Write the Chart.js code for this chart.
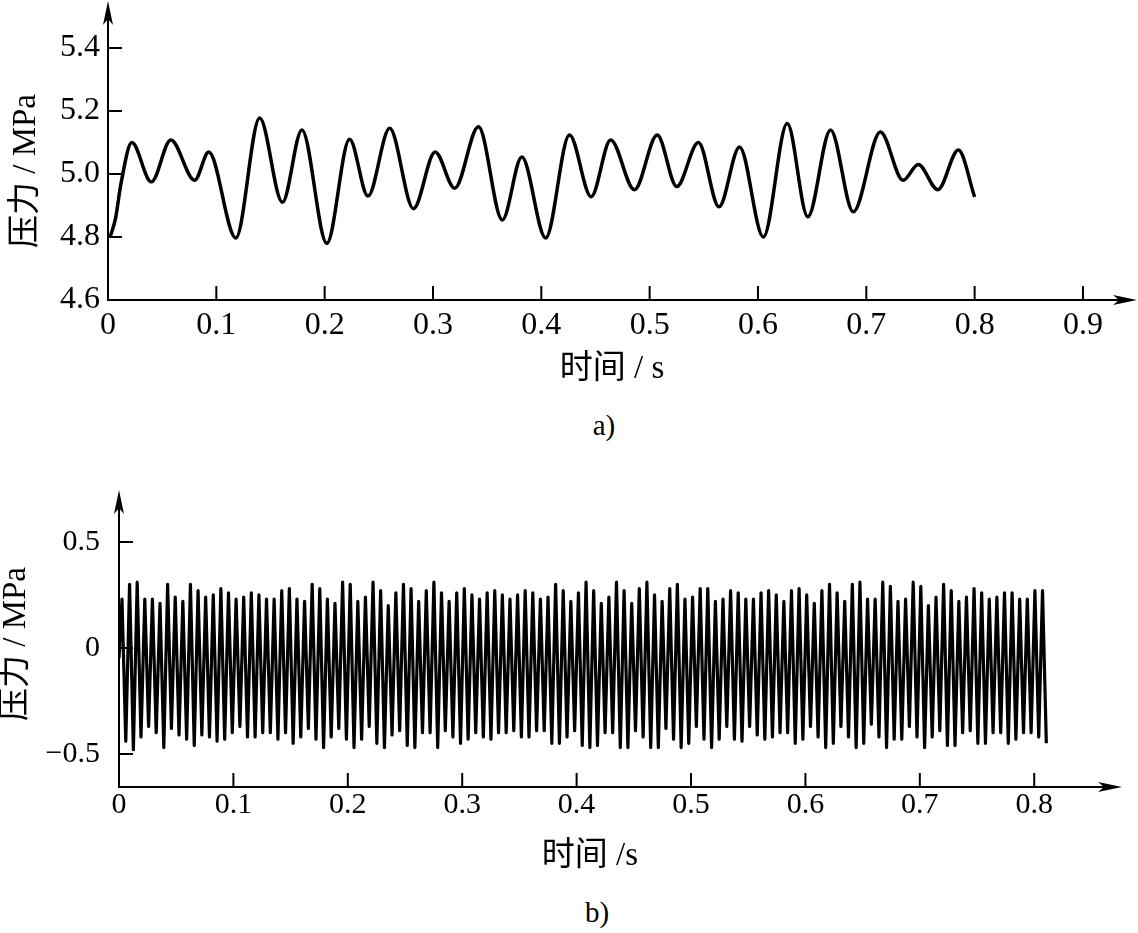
<!DOCTYPE html>
<html>
<head>
<meta charset="utf-8">
<script src="https://cdn.jsdelivr.net/npm/chart.js@4/dist/chart.umd.min.js"></script>
<style>
  body { margin: 0; background: #fff; }
  #wrap { position: relative; width: 1138px; height: 933px; background: #fff; }
  canvas { position: absolute; left: 0; }
  .cap { position: absolute; transform: translate(-50%, -50%); font: 29px 'Liberation Serif', serif; color: #000; }
</style>
</head>
<body>
<div id="wrap">
  <canvas id="chartA" width="1138" height="400" style="top:0"></canvas>
  <div class="cap" style="left:604px;top:425px">a)</div>
  <canvas id="chartB" width="1138" height="410" style="top:470px"></canvas>
  <div class="cap" style="left:597px;top:912px">b)</div>
</div>
<script>
// a) 压力随时间 (MPa), 读图得到的峰谷点
const timeA = [0.002, 0.007, 0.012, 0.022, 0.040, 0.058, 0.080, 0.093, 0.118, 0.140, 0.161, 0.179,
  0.202, 0.223, 0.240, 0.260, 0.282, 0.302, 0.320, 0.342, 0.364, 0.382, 0.404, 0.426,
  0.446, 0.464, 0.486, 0.507, 0.525, 0.545, 0.564, 0.583, 0.605, 0.627, 0.646, 0.667,
  0.688, 0.713, 0.734, 0.748, 0.766, 0.785, 0.800];
const pressA = [4.80, 4.86, 4.97, 5.10, 4.975, 5.108, 4.98, 5.07, 4.797, 5.178, 4.91, 5.14,
  4.78, 5.11, 4.93, 5.145, 4.89, 5.07, 4.955, 5.15, 4.854, 5.054, 4.797, 5.124,
  4.928, 5.108, 4.95, 5.124, 4.96, 5.10, 4.896, 5.086, 4.80, 5.16, 4.864, 5.14,
  4.88, 5.133, 4.98, 5.03, 4.95, 5.076, 4.927];
const xTicksA = [0, 0.1, 0.2, 0.3, 0.4, 0.5, 0.6, 0.7, 0.8, 0.9];
const xLabelsA = ['0', '0.1', '0.2', '0.3', '0.4', '0.5', '0.6', '0.7', '0.8', '0.9'];
const yTicksA = [4.6, 4.8, 5.0, 5.2, 5.4];
const yLabelsA = ['4.6', '4.8', '5.0', '5.2', '5.4'];

// b) 压力脉动 (MPa): 每个周期的波峰和波谷
const peaksB = [
  0.23, 0.30, 0.31, 0.23, 0.23, 0.21, 0.30, 0.24, 0.22, 0.30, 0.27, 0.24, 0.25, 0.28, 0.26, 0.23, 0.24, 0.26, 0.25, 0.23, 0.23,
  0.27, 0.28, 0.23, 0.22, 0.30, 0.28, 0.23, 0.21, 0.31, 0.30, 0.22, 0.24, 0.31, 0.27, 0.20, 0.26, 0.30, 0.28, 0.22, 0.27,
  0.31, 0.26, 0.22, 0.26, 0.28, 0.25, 0.23, 0.26, 0.27, 0.25, 0.23, 0.25, 0.27, 0.26, 0.23, 0.24, 0.30, 0.27, 0.22, 0.26,
  0.31, 0.27, 0.21, 0.24, 0.31, 0.27, 0.21, 0.28, 0.31, 0.25, 0.22, 0.28, 0.30, 0.23, 0.24, 0.28, 0.28, 0.22, 0.23, 0.27, 0.26,
  0.23, 0.23, 0.26, 0.27, 0.25, 0.22, 0.27, 0.28, 0.25, 0.21, 0.27, 0.30, 0.26, 0.22, 0.30, 0.31, 0.23, 0.23, 0.31, 0.29,
  0.22, 0.23, 0.31, 0.29, 0.20, 0.24, 0.30, 0.27, 0.22, 0.24, 0.28, 0.26, 0.23, 0.24, 0.26, 0.26, 0.23, 0.23, 0.27, 0.27];
const troughsB = [
  -0.44, -0.48, -0.42, -0.37, -0.40, -0.47, -0.38, -0.41, -0.43, -0.46, -0.41, -0.42, -0.44, -0.43, -0.40, -0.37, -0.42, -0.42, -0.40, -0.40, -0.43,
  -0.40, -0.45, -0.42, -0.38, -0.43, -0.47, -0.42, -0.38, -0.43, -0.47, -0.43, -0.37, -0.45, -0.47, -0.41, -0.39, -0.46, -0.47, -0.40, -0.40,
  -0.47, -0.39, -0.42, -0.45, -0.43, -0.40, -0.42, -0.43, -0.40, -0.40, -0.39, -0.42, -0.42, -0.39, -0.39, -0.45, -0.45, -0.42, -0.39, -0.46,
  -0.47, -0.46, -0.40, -0.40, -0.47, -0.47, -0.39, -0.42, -0.47, -0.47, -0.38, -0.43, -0.47, -0.45, -0.37, -0.43, -0.47, -0.43, -0.37, -0.43, -0.44,
  -0.37, -0.41, -0.43, -0.42, -0.40, -0.40, -0.45, -0.43, -0.37, -0.42, -0.47, -0.45, -0.37, -0.42, -0.47, -0.45, -0.36, -0.42, -0.47, -0.43,
  -0.43, -0.37, -0.42, -0.47, -0.42, -0.39, -0.46, -0.46, -0.40, -0.39, -0.45, -0.45, -0.40, -0.40, -0.45, -0.43, -0.40, -0.40, -0.42, -0.45];
const startB = -0.05;        // 起点值
const firstPeakB = 0.0026;   // 第一个波峰时刻 s
const cycleB = 0.00665;      // 波峰间隔 s
const xTicksB = [0, 0.1, 0.2, 0.3, 0.4, 0.5, 0.6, 0.7, 0.8];
const xLabelsB = ['0', '0.1', '0.2', '0.3', '0.4', '0.5', '0.6', '0.7', '0.8'];
const yTicksB = [-0.5, 0, 0.5];
const yLabelsB = ['\u22120.5', '0', '0.5'];

const serif = "'Liberation Serif', 'Noto Sans CJK SC', serif";

// 坐标轴, 向内的刻度和箭头
const axisArrows = {
  id: 'axisArrows',
  afterDraw(chart, args, o) {
    const {ctx, chartArea: area, scales} = chart;
    const x = scales.x, y = scales.y;
    ctx.save();
    ctx.strokeStyle = '#000';
    ctx.fillStyle = '#000';
    ctx.lineWidth = 2;
    ctx.beginPath();
    ctx.moveTo(area.left, o.yTip + 12);
    ctx.lineTo(area.left, area.bottom);
    ctx.lineTo(o.xTip - 12, area.bottom);
    x.ticks.forEach(t => {
      const px = x.getPixelForValue(t.value);
      ctx.moveTo(px, area.bottom);
      ctx.lineTo(px, area.bottom - o.tickLen);
    });
    y.ticks.forEach(t => {
      const py = y.getPixelForValue(t.value);
      ctx.moveTo(area.left, py);
      ctx.lineTo(area.left + o.tickLen, py);
    });
    ctx.stroke();
    const L = 24, W = 5;
    ctx.beginPath();
    ctx.moveTo(area.left, o.yTip);
    ctx.lineTo(area.left - W, o.yTip + L);
    ctx.lineTo(area.left, o.yTip + L - 6);
    ctx.lineTo(area.left + W, o.yTip + L);
    ctx.closePath();
    ctx.moveTo(o.xTip, area.bottom);
    ctx.lineTo(o.xTip - L, area.bottom - W);
    ctx.lineTo(o.xTip - L + 6, area.bottom);
    ctx.lineTo(o.xTip - L, area.bottom + W);
    ctx.closePath();
    ctx.fill();
    ctx.restore();
  }
};

let makeOptions = (c) => {
  return {
    responsive: false,
    animation: false,
    layout: { padding: c.pad },
    plugins: {
      legend: { display: false },
      tooltip: { enabled: false },
      axisArrows: c.arrows
    },
    scales: {
      x: {
        type: 'linear',
        min: c.xMin, max: c.xMax,
        afterBuildTicks: s => { s.ticks = c.xTicks.map(v => ({ value: v })); },
        afterFit: s => { s.height = c.xHeight; s.paddingLeft = 0; s.paddingRight = 0; s.paddingTop = 0; s.paddingBottom = 0; },
        grid: { display: false, drawTicks: false },
        border: { display: false },
        ticks: {
          autoSkip: false, maxRotation: 0, padding: c.xTickPad, color: '#000',
          font: { family: serif, size: c.tickSize, lineHeight: 1.1 },
          callback: v => c.xLabels[c.xTicks.indexOf(v)]
        },
        title: {
          display: true, text: c.xTitle, color: '#000',
          font: { family: serif, size: 33, lineHeight: 1 },
          padding: { top: 0, bottom: c.xTitlePad }
        }
      },
      y: {
        type: 'linear',
        min: c.yMin, max: c.yMax,
        afterBuildTicks: s => { s.ticks = c.yTicks.map(v => ({ value: v })); },
        afterFit: s => { s.width = c.yWidth; s.paddingLeft = 0; s.paddingRight = 0; s.paddingTop = 0; s.paddingBottom = 0; },
        grid: { display: false, drawTicks: false },
        border: { display: false },
        ticks: {
          autoSkip: false, padding: c.yTickPad, color: '#000',
          font: { family: serif, size: c.tickSize, lineHeight: 1.1 },
          callback: v => c.yLabels[c.yTicks.indexOf(v)]
        },
        title: {
          display: true, text: '压力 / MPa', color: '#000',
          font: { family: serif, size: 33, lineHeight: 1 },
          padding: { top: c.yTitlePad, bottom: 0 }
        }
      }
    }
  };
};

// 图 a
let pointsA = timeA.map((t, i) => ({ x: t, y: pressA[i] }));
new Chart(document.getElementById('chartA'), {
  type: 'line',
  data: {
    datasets: [{
      data: pointsA,
      borderColor: '#000',
      borderWidth: 3.5,
      pointRadius: 0,
      cubicInterpolationMode: 'monotone',
      fill: false
    }]
  },
  options: makeOptions({
    pad: { top: 42, right: 22, left: 0, bottom: 0 },
    xMin: 0, xMax: 0.9305, yMin: 4.6, yMax: 5.419,
    xTicks: xTicksA, xLabels: xLabelsA, yTicks: yTicksA, yLabels: yLabelsA,
    xHeight: 100, yWidth: 108, xTickPad: 8, yTickPad: 8, tickSize: 32,
    xTitle: '时间 / s', xTitlePad: 14, yTitlePad: 10,
    arrows: { xTip: 1137, yTip: 1, tickLen: 14 }
  }),
  plugins: [axisArrows]
});

// 图 b
let pointsB = [{ x: 0, y: startB }];
for (let i = 0; i < peaksB.length; i++) {
  pointsB.push({ x: firstPeakB + i * cycleB, y: peaksB[i] });
  pointsB.push({ x: firstPeakB + (i + 0.5) * cycleB, y: troughsB[i] });
}
new Chart(document.getElementById('chartB'), {
  type: 'line',
  data: {
    datasets: [{
      data: pointsB,
      borderColor: '#000',
      borderWidth: 3.2,
      borderJoinStyle: 'round',
      pointRadius: 0,
      tension: 0,
      fill: false
    }]
  },
  options: makeOptions({
    pad: { top: 31, right: 77, left: 0, bottom: 0 },
    xMin: 0, xMax: 0.8234, yMin: -0.656, yMax: 0.693,
    xTicks: xTicksB, xLabels: xLabelsB, yTicks: yTicksB, yLabels: yLabelsB,
    xHeight: 93, yWidth: 119, xTickPad: 2, yTickPad: 19, tickSize: 30,
    xTitle: '时间 /s', xTitlePad: 7, yTitlePad: 0,
    arrows: { xTip: 1122, yTip: 20, tickLen: 14 }
  }),
  plugins: [axisArrows]
});
</script>
</body>
</html>
